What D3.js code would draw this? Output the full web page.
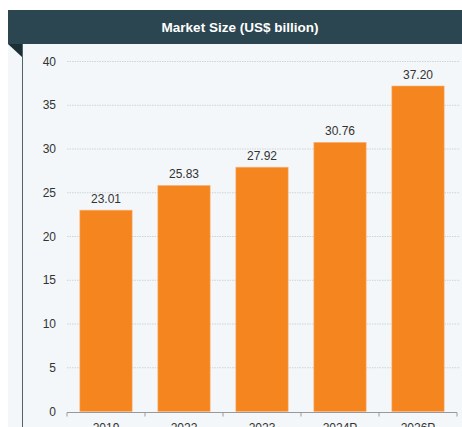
<!DOCTYPE html>
<html lang="en">
<head>
  <meta charset="UTF-8">
  <title>Market Size</title>
  <script src="https://d3js.org/d3.v7.min.js"></script>
  <style>
    body {
      margin: 0;
      background: white;
      font-family: "Liberation Sans", Arial, sans-serif;
    }
    svg { display: block; }
  </style>
</head>
<body>
  <svg width="462" height="427"></svg>
  <script>
    const years = ["2019", "2022", "2023", "2024P", "2026P"];
    const values = [23.01, 25.83, 27.92, 30.76, 37.20];
    const yTicks = [0, 5, 10, 15, 20, 25, 30, 35, 40];
    const title = "Market Size (US$ billion)";

    const svg = d3.select("svg");

    // panel background and header
    svg.append("rect").attr("x", 8).attr("y", 44).attr("width", 454).attr("height", 383).attr("fill", "#f3f7f9");
    svg.append("rect").attr("x", 8).attr("y", 10).attr("width", 454).attr("height", 34).attr("fill", "#2b4650");
    svg.append("path").attr("d", "M8,44 L22,44 L22,57 Z").attr("fill", "#1c2f36");
    svg.append("line").attr("x1", 22.5).attr("x2", 22.5).attr("y1", 44).attr("y2", 427)
      .attr("stroke", "#50626a").attr("stroke-width", 1);
    svg.append("text").attr("x", 240).attr("y", 32).attr("text-anchor", "middle")
      .attr("fill", "white").attr("font-weight", "bold").attr("font-size", 13.5).text(title);

    const x = d3.scaleBand().domain(years).range([67, 457]).paddingInner(0.33).paddingOuter(0.165);
    const y = d3.scaleLinear().domain([0, 40]).range([411.5, 61.5]);

    // gridlines
    svg.append("g").selectAll("line").data(yTicks.filter(d => d > 0)).join("line")
      .attr("x1", 67).attr("x2", 460)
      .attr("y1", d => y(d)).attr("y2", d => y(d))
      .attr("stroke", "#cfd4d6").attr("stroke-dasharray", "1.5,1");

    // y tick labels
    svg.append("g").selectAll("text").data(yTicks).join("text")
      .attr("x", 56).attr("y", d => y(d) + 4).attr("text-anchor", "end")
      .attr("font-size", 12).attr("fill", "#333").text(d => d);

    // bars
    svg.append("g").selectAll("rect").data(values).join("rect")
      .attr("x", (d, i) => x(years[i]))
      .attr("y", d => y(d))
      .attr("width", x.bandwidth())
      .attr("height", d => y(0) - y(d))
      .attr("fill", "#f5861f")
      .attr("stroke", "#f9b27a").attr("stroke-width", 0.6);

    // value labels
    svg.append("g").selectAll("text").data(values).join("text")
      .attr("x", (d, i) => x(years[i]) + x.bandwidth() / 2)
      .attr("y", d => y(d) - 7)
      .attr("text-anchor", "middle").attr("font-size", 12).attr("fill", "#333")
      .text(d => d.toFixed(2));

    // x axis
    const step = x.step();
    const edges = d3.range(years.length + 1).map(i => 67 + i * step);
    svg.append("line").attr("x1", 67).attr("x2", 457).attr("y1", 412.5).attr("y2", 412.5)
      .attr("stroke", "#999");
    svg.append("g").selectAll("line").data(edges).join("line")
      .attr("x1", d => d).attr("x2", d => d).attr("y1", 412.5).attr("y2", 416.5)
      .attr("stroke", "#999");
    svg.append("g").selectAll("text").data(years).join("text")
      .attr("x", d => x(d) + x.bandwidth() / 2).attr("y", 432)
      .attr("text-anchor", "middle").attr("font-size", 12).attr("fill", "#333")
      .text(d => d);
  </script>
</body>
</html>
